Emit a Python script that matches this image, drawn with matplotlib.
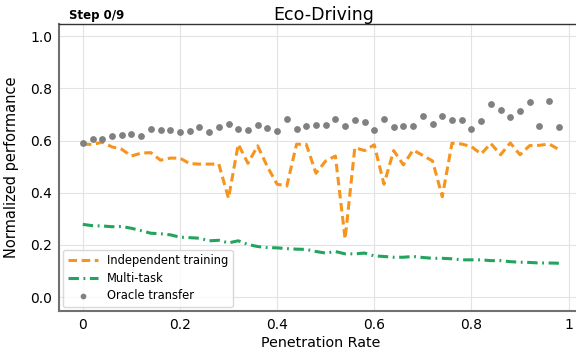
import numpy as np
import matplotlib
matplotlib.use("Agg")
import matplotlib.pyplot as plt

# penetration rates 0.00 .. 0.98
rates = [i / 50 for i in range(50)]

independent = [0.587, 0.585, 0.594, 0.576, 0.567, 0.541, 0.552, 0.554, 0.525, 0.533,
               0.533, 0.512, 0.510, 0.510, 0.510, 0.379, 0.586, 0.513, 0.580, 0.500,
               0.433, 0.426, 0.586, 0.586, 0.475, 0.522, 0.541, 0.223, 0.573, 0.562,
               0.584, 0.433, 0.562, 0.507, 0.564, 0.543, 0.522, 0.385, 0.590, 0.587,
               0.577, 0.549, 0.589, 0.546, 0.591, 0.546, 0.581, 0.582, 0.587, 0.566]

multitask = [0.279, 0.274, 0.273, 0.270, 0.271, 0.264, 0.255, 0.245, 0.243, 0.239,
             0.230, 0.228, 0.226, 0.216, 0.218, 0.208, 0.216, 0.202, 0.194, 0.190,
             0.189, 0.186, 0.184, 0.183, 0.175, 0.169, 0.175, 0.166, 0.166, 0.169,
             0.158, 0.156, 0.153, 0.153, 0.156, 0.152, 0.149, 0.149, 0.147, 0.143,
             0.143, 0.143, 0.140, 0.140, 0.136, 0.134, 0.133, 0.131, 0.131, 0.130]

oracle = [0.591, 0.607, 0.607, 0.618, 0.622, 0.625, 0.619, 0.645, 0.641, 0.642,
          0.634, 0.638, 0.651, 0.632, 0.652, 0.663, 0.644, 0.640, 0.661, 0.650,
          0.638, 0.682, 0.645, 0.656, 0.659, 0.660, 0.682, 0.655, 0.679, 0.672,
          0.641, 0.682, 0.652, 0.655, 0.657, 0.693, 0.664, 0.693, 0.678, 0.680,
          0.646, 0.677, 0.741, 0.718, 0.692, 0.714, 0.749, 0.657, 0.753, 0.654]

fig = plt.figure(figsize=(5.76, 3.54), dpi=100)
ax = fig.add_axes([0.1024, 0.1215, 0.91, 0.8107])

ax.plot(rates, independent, color="#f7941d", linestyle=(0, (2.8, 1.5)), linewidth=2.2,
        label="Independent training")
ax.plot(rates, multitask, color="#22a45d", linestyle=(0, (3.4, 1.5, 0.6, 1.5)), linewidth=2.2,
        label="Multi-task")
ax.scatter(rates, oracle, color="#808080", s=15, zorder=3, label="Oracle transfer")

ax.set_xlim(-0.049, 1.03)
ax.set_ylim(-0.053, 1.047)
ax.set_xticks([0, 0.2, 0.4, 0.6, 0.8, 1])
ax.set_xticklabels(["0", "0.2", "0.4", "0.6", "0.8", "1"])
ax.set_yticks([0, 0.2, 0.4, 0.6, 0.8, 1.0])
ax.set_yticklabels(["0.0", "0.2", "0.4", "0.6", "0.8", "1.0"])
ax.tick_params(axis="both", length=0, labelsize=10, pad=5)
ax.grid(True, color="#e3e3e3", linewidth=0.8)
ax.set_axisbelow(True)

for side in ["left", "bottom"]:
    ax.spines[side].set_color("#707070")
    ax.spines[side].set_linewidth(1.5)
ax.spines["top"].set_color("#333333")
ax.spines["top"].set_linewidth(1.0)
ax.spines["right"].set_visible(False)

ax.set_xlabel("Penetration Rate", fontsize=10.3, labelpad=3)
ax.set_ylabel("Normalized performance", fontsize=10.5, labelpad=8)
fig.text(0.5625, 0.958, "Eco-Driving", ha="center", va="center", fontsize=12.5)
fig.text(0.12, 0.955, "Step 0/9", ha="left", va="center", fontsize=8.5, fontweight="bold")

leg = ax.legend(loc="lower left", fontsize=8.3, frameon=True, handlelength=2.6,
                borderaxespad=0.35, labelspacing=0.4, markerscale=0.8)
leg.get_frame().set_edgecolor("#d0d0d0")

fig.savefig("out.png", dpi=100)
